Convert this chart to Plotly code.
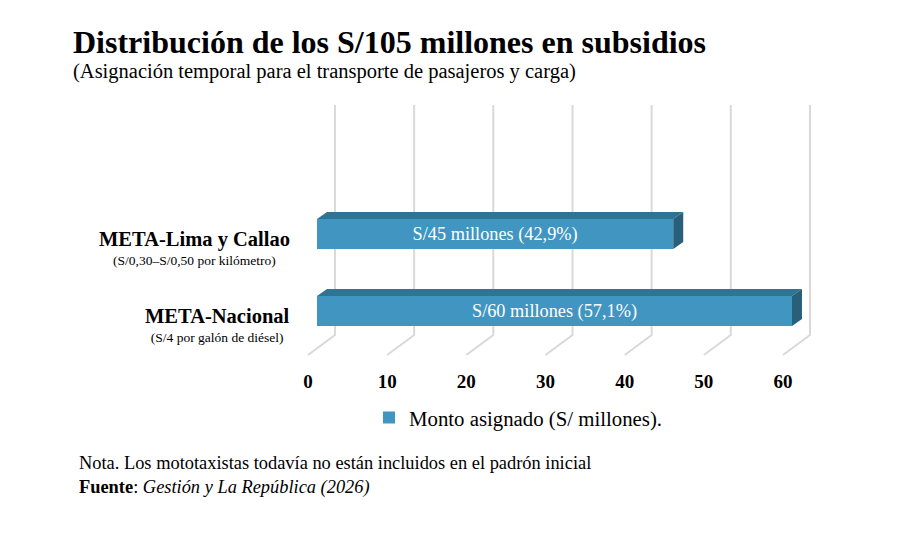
import plotly.graph_objects as go

categories = ["META-Nacional", "META-Lima y Callao"]
details = ["(S/4 por galón de diésel)", "(S/0,30–S/0,50 por kilómetro)"]
amounts = [60, 45]
shares = ["57,1", "42,9"]
tick_values = [0, 10, 20, 30, 40, 50, 60]

# the page adds an 8px body margin, so the figure is drawn 8px smaller
OFF = 8
W, H = 899 - OFF, 534 - OFF
L, R, T, B = 290 - OFF, 69, 100 - OFF, 174
PW, PH = W - L - R, H - T - B

FONT = "Liberation Serif, Times New Roman, serif"
FRONT = "#4195c1"
TOP = "#2f7493"
SIDE = "#295f79"
GRID = "#d9d9d9"

# bar plane in value units, floor/back wall shifted by the fake depth
x_range = [-3.41, 64.8]
y_range = [-0.636, 2.74]
floor_shift = 1.14   # front edge of the floor
back_shift = 2.27    # back wall
floor_front_y, floor_back_y, wall_top_y = -0.571, -0.312, 2.675
bar_width = 0.39
depth_x, depth_y = 1.26, 0.091


def px_x(p):
    return (p - 290) / PW


def px_y(p):
    return 1 - (p - 100) / PH


ypos = list(range(len(categories)))

fig = go.Figure()

fig.add_trace(go.Bar(
    y=ypos, x=amounts, orientation="h", width=bar_width,
    marker=dict(color=FRONT, line=dict(width=0)),
    text=[f"S/{a} millones ({s}%)" for a, s in zip(amounts, shares)],
    textposition="inside", insidetextanchor="middle",
    textfont=dict(family=FONT, size=18.3, color="white"),
    insidetextfont=dict(family=FONT, size=18.3, color="white"),
    name="Monto asignado (S/ millones).", hoverinfo="skip",
))

# top and right faces of each bar
for yc, v in zip(ypos, amounts):
    yt, yb = yc + bar_width / 2, yc - bar_width / 2
    fig.add_trace(go.Scatter(
        x=[0, v, v + depth_x, depth_x, 0], y=[yt, yt, yt + depth_y, yt + depth_y, yt],
        fill="toself", fillcolor=TOP, mode="lines", line=dict(width=0),
        showlegend=False, hoverinfo="skip"))
    fig.add_trace(go.Scatter(
        x=[v, v + depth_x, v + depth_x, v, v], y=[yb, yb + depth_y, yt + depth_y, yt, yb],
        fill="toself", fillcolor=SIDE, mode="lines", line=dict(width=0),
        showlegend=False, hoverinfo="skip"))

# invisible trace to hold the floor axis
fig.add_trace(go.Scatter(
    x=tick_values, y=[floor_front_y] * len(tick_values), xaxis="x2",
    mode="markers", marker=dict(opacity=0), showlegend=False, hoverinfo="skip"))

# back-wall gridlines with the floor diagonals
for t in tick_values:
    fig.add_shape(
        type="path", xref="x", yref="y", layer="below",
        path=f"M {t + back_shift} {wall_top_y} L {t + back_shift} {floor_back_y} "
             f"L {t - floor_shift} {floor_front_y}",
        line=dict(color=GRID, width=2))

ann = []
for yc, c, d in zip(ypos, categories, details):
    ann.append(dict(
        x=0, xref="paper", y=yc, yref="y", xanchor="right", yanchor="middle",
        xshift=2, yshift=-14, align="center", showarrow=False,
        text=f"<span style='font-size:20.5px'><b>{c}</b></span><br>"
             f"<span style='font-size:13.5px'>{d}</span>",
        font=dict(family=FONT, size=14.5, color="black")))

ann += [
    dict(x=px_x(71), y=px_y(42), xref="paper", yref="paper", xanchor="left", yanchor="middle",
         showarrow=False, text="<b>Distribución de los S/105 millones en subsidios</b>",
         font=dict(family=FONT, size=32, color="black")),
    dict(x=px_x(71), y=px_y(72), xref="paper", yref="paper", xanchor="left", yanchor="middle",
         showarrow=False, text="(Asignación temporal para el transporte de pasajeros y carga)",
         font=dict(family=FONT, size=20.5, color="black")),
    dict(x=px_x(77), y=px_y(463), xref="paper", yref="paper", xanchor="left", yanchor="middle",
         showarrow=False, text="Nota. Los mototaxistas todavía no están incluidos en el padrón inicial",
         font=dict(family=FONT, size=18.4, color="black")),
    dict(x=px_x(77), y=px_y(487), xref="paper", yref="paper", xanchor="left", yanchor="middle",
         showarrow=False, text="<b>Fuente</b>: <i>Gestión y La República (2026)</i>",
         font=dict(family=FONT, size=18.4, color="black")),
]

fig.update_layout(
    width=W, height=H, margin=dict(l=L, r=R, t=T, b=B),
    paper_bgcolor="white", plot_bgcolor="white",
    barmode="overlay", annotations=ann,
    xaxis=dict(range=x_range, showgrid=False, zeroline=False, showticklabels=False,
               showline=False, fixedrange=True),
    xaxis2=dict(range=[x_range[0] + floor_shift, x_range[1] + floor_shift], overlaying="x",
                side="bottom", anchor="y", tickvals=tick_values, showgrid=False,
                zeroline=False, showline=False, ticks="", ticklabelstandoff=8,
                tickfont=dict(family=FONT, size=19, color="black", weight="bold")),
    yaxis=dict(range=y_range, showgrid=False, zeroline=False, showticklabels=False,
               showline=False, fixedrange=True),
    showlegend=True,
    legend=dict(orientation="h", x=px_x(369), y=px_y(418), xanchor="left", yanchor="middle",
                font=dict(family=FONT, size=20.8, color="black"), bgcolor="rgba(0,0,0,0)"),
)

fig.write_html("out.html")
